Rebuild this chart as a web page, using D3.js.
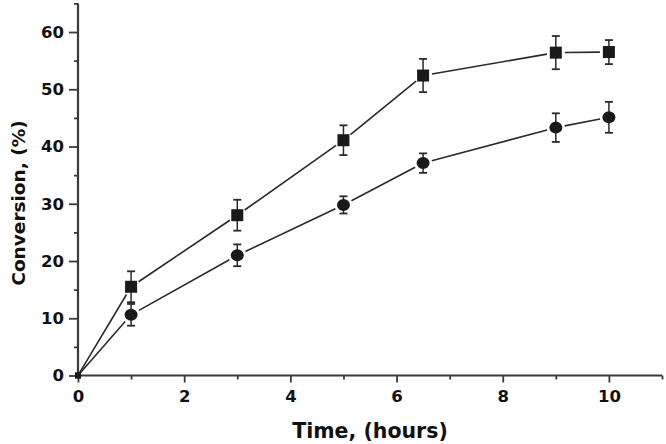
<!DOCTYPE html>
<html>
<head>
<meta charset="utf-8">
<script src="https://cdn.jsdelivr.net/npm/d3@7"></script>
<style>
  html, body { margin: 0; padding: 0; background: #fff; }
  svg { display: block; }
  text { font-family: "DejaVu Sans", "Liberation Sans", Arial, sans-serif; font-weight: bold; fill: #111; }
</style>
</head>
<body>
<svg id="chart" width="666" height="444"></svg>
<script>
// ---- data ----
const times = [0, 1, 3, 5, 6.5, 9, 10];
const squareValues = [0, 15.5, 28.0, 41.1, 52.4, 56.4, 56.5];
const squareErrors = [0, 2.7, 2.7, 2.6, 2.9, 2.9, 2.1];
const circleValues = [0, 10.6, 21.0, 29.8, 37.1, 43.3, 45.1];
const circleErrors = [0, 1.9, 1.9, 1.5, 1.7, 2.5, 2.7];
const xTicks = [0, 2, 4, 6, 8, 10];
const xMinorTicks = [1, 3, 5, 7, 9, 11];
const yTicks = [0, 10, 20, 30, 40, 50, 60];
const yMinorTicks = [5, 15, 25, 35, 45, 55, 65];
const xLabel = "Time, (hours)";
const yLabel = "Conversion, (%)";

// ---- layout ----
const svg = d3.select("#chart");
const x = d3.scaleLinear().domain([0, 11]).range([78, 662]);
const y = d3.scaleLinear().domain([0, 65]).range([375.5, 3.4]);
const ink = "#1a1a1a";
const axisColor = "#3a3a3a";

// axes
const xAxis = d3.axisBottom(x).tickValues(xTicks).tickSize(7).tickPadding(5).tickFormat(d3.format("d"));
const xAxisMinor = d3.axisBottom(x).tickValues(xMinorTicks).tickSize(4).tickFormat("");
const yAxis = d3.axisLeft(y).tickValues(yTicks).tickSize(9).tickPadding(5).tickFormat(d3.format("d"));
const yAxisMinor = d3.axisLeft(y).tickValues(yMinorTicks).tickSize(4).tickFormat("");

function styleAxis(g) {
  g.select(".domain").attr("stroke", axisColor).attr("stroke-width", 2.2);
  g.selectAll(".tick line").attr("stroke", axisColor).attr("stroke-width", 1.8);
  g.selectAll(".tick text").attr("font-size", 16.5).attr("font-family", "DejaVu Sans, sans-serif").attr("font-weight", "bold").attr("fill", "#111");
}

const gxm = svg.append("g").attr("transform", `translate(0,${y(0)})`).call(xAxisMinor);
gxm.select(".domain").remove();
gxm.selectAll(".tick line").attr("stroke", axisColor).attr("stroke-width", 1.8);
const gym = svg.append("g").attr("transform", `translate(${x(0)},0)`).call(yAxisMinor);
gym.select(".domain").remove();
gym.selectAll(".tick line").attr("stroke", axisColor).attr("stroke-width", 1.8);

const gx = svg.append("g").attr("transform", `translate(0,${y(0)})`).call(xAxis).call(styleAxis);
gx.select(".domain").attr("d", `M${x(0)},0H${x(11)}`);
const gy = svg.append("g").attr("transform", `translate(${x(0)},0)`).call(yAxis).call(styleAxis);
gy.select(".domain").attr("d", `M0,${y(0)}V${y(65)}`);
gx.selectAll(".tick text").attr("dy", "0.85em");

// axis titles
svg.append("text").attr("x", 370).attr("y", 438).attr("text-anchor", "middle")
  .attr("font-size", 20.5).text(xLabel);
svg.append("text").attr("transform", "translate(25,203) rotate(-90)").attr("text-anchor", "middle")
  .attr("font-size", 18.5).text(yLabel);

// series drawing
function drawSeries(values, errors, shape) {
  const pts = times.map((t, i) => ({ px: x(t), py: y(values[i]), v: values[i], e: errors[i] }));
  const gap = 9;
  const g = svg.append("g");
  for (let i = 0; i < pts.length - 1; i++) {
    const a = pts[i], b = pts[i + 1];
    const dx = b.px - a.px, dy = b.py - a.py;
    const len = Math.hypot(dx, dy);
    const ux = dx / len, uy = dy / len;
    const ga = i === 0 ? 3 : gap;
    g.append("line")
      .attr("x1", a.px + ux * ga).attr("y1", a.py + uy * ga)
      .attr("x2", b.px - ux * gap).attr("y2", b.py - uy * gap)
      .attr("stroke", "#2a2a2a").attr("stroke-width", 1.6);
  }
  pts.forEach(p => {
    if (p.e <= 0) return;
    const top = y(p.v + p.e), bot = y(p.v - p.e);
    g.append("line").attr("x1", p.px).attr("x2", p.px).attr("y1", top).attr("y2", bot)
      .attr("stroke", "#2a2a2a").attr("stroke-width", 1.5);
    [top, bot].forEach(yy => g.append("line").attr("x1", p.px - 4).attr("x2", p.px + 4)
      .attr("y1", yy).attr("y2", yy).attr("stroke", "#2a2a2a").attr("stroke-width", 1.8));
  });
  pts.forEach((p, i) => {
    if (i === 0) {
      g.append("rect").attr("x", p.px - 3).attr("y", p.py - 3).attr("width", 6).attr("height", 6).attr("fill", ink);
      return;
    }
    if (shape === "square") {
      g.append("rect").attr("x", p.px - 6).attr("y", p.py - 6).attr("width", 12).attr("height", 12).attr("fill", ink);
    } else {
      g.append("ellipse").attr("cx", p.px).attr("cy", p.py).attr("rx", 6.5).attr("ry", 6).attr("fill", ink);
    }
  });
}

drawSeries(squareValues, squareErrors, "square");
drawSeries(circleValues, circleErrors, "circle");
</script>
</body>
</html>
